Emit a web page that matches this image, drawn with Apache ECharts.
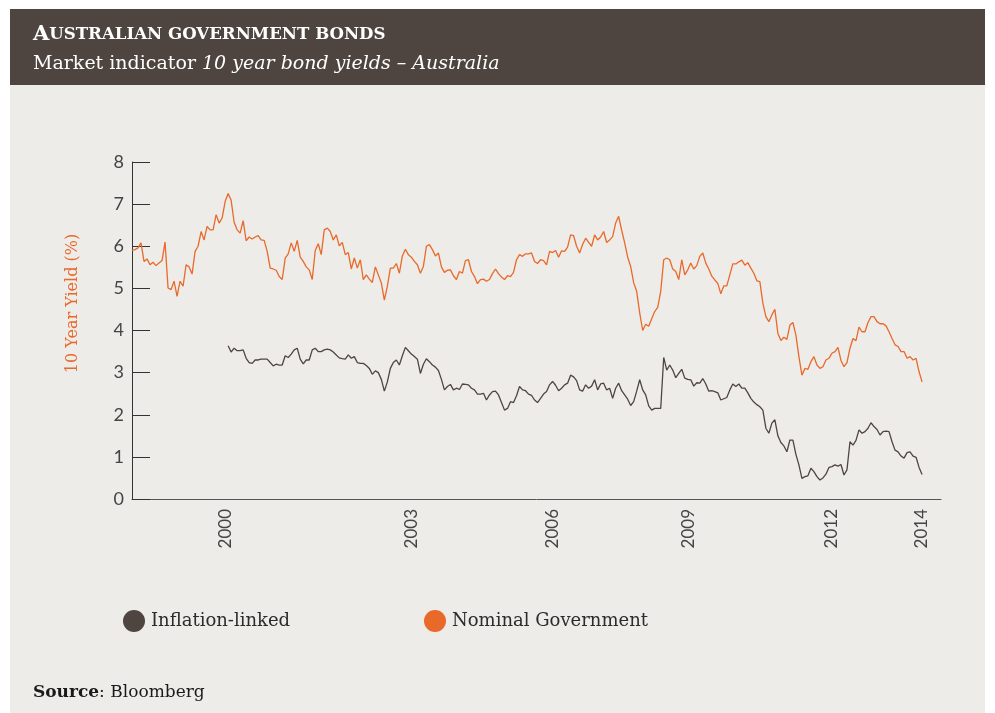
<!DOCTYPE html>
<html><head><meta charset="utf-8">
<script src="https://cdn.jsdelivr.net/npm/echarts@6/dist/echarts.min.js"></script>
<style>html,body{margin:0;padding:0;background:#fff}#c{width:995px;height:713px}</style>
</head><body><div id="c"></div>
<script>
// x = sample index (roughly three-weekly observations), y = 10 year yield (%)
const nominalStart = 0;
const nominalGovernment = [
5.90,5.92,5.96,6.08,5.64,5.70,5.56,5.62,5.54,5.60,5.66,
6.10,5.01,4.97,5.17,4.81,5.17,5.05,5.56,5.51,5.34,
5.88,6.00,6.35,6.15,6.47,6.39,6.39,6.75,6.55,6.67,
7.06,7.25,7.09,6.57,6.39,6.31,6.61,6.13,6.22,6.17,
6.22,6.25,6.15,6.14,5.88,5.48,5.46,5.43,5.28,5.21,
5.72,5.82,6.08,5.88,6.14,5.74,5.64,5.51,5.44,5.21,
5.90,6.06,5.80,6.39,6.43,
6.35,6.15,6.27,6.01,6.09,5.80,5.85,5.46,5.72,5.48,
5.68,5.21,5.32,5.22,5.14,5.51,5.32,5.13,4.72,5.05,
5.48,5.48,5.59,5.36,5.77,5.93,5.80,5.74,5.64,5.56,
5.36,5.52,6.00,6.04,5.92,5.77,5.84,5.51,5.38,5.43,
5.44,5.30,5.21,5.40,5.36,5.66,5.68,5.40,5.28,5.11,
5.21,5.22,5.17,5.21,5.35,5.46,5.35,5.27,5.21,5.30,
5.28,5.38,5.68,
5.80,5.76,5.82,5.82,5.84,5.64,5.59,5.68,5.66,5.56,
5.88,5.85,5.90,5.74,5.89,5.88,5.98,6.27,6.25,6.00,
5.84,6.04,6.19,6.09,6.00,6.27,6.15,6.22,6.35,6.09,
6.15,6.23,6.55,6.71,6.38,6.08,5.74,5.52,5.13,4.93,
4.42,4.00,4.15,4.10,4.28,4.45,4.55,4.93,5.68,5.72,
5.68,5.46,5.40,5.21,5.68,5.32,5.44,5.60,5.46,5.54,
5.76,5.84,5.60,5.46,
5.29,5.20,5.12,4.87,5.06,5.06,5.32,5.58,5.58,5.63,
5.67,5.55,5.61,5.48,5.36,5.18,5.16,4.65,4.33,4.21,
4.37,4.50,3.93,3.76,3.84,3.79,4.13,4.19,3.89,3.38,
2.94,3.10,3.08,3.26,3.38,3.18,3.10,3.14,3.30,3.34,
3.46,3.50,3.60,3.29,3.14,3.24,3.58,3.81,3.76,4.08,
3.97,3.97,4.19,4.33,4.33,4.21,4.16,4.16,4.11,3.97,
3.81,3.66,3.62,3.50,3.50,3.34,3.38,3.30,3.34,3.02,2.78
];
const inflationStart = 32;
const inflationLinked = [
3.64,3.49,3.58,3.52,3.52,3.54,3.34,3.24,3.22,3.30,
3.30,3.32,3.32,3.32,3.24,3.16,3.20,3.18,3.18,3.40,
3.36,3.44,3.54,3.58,3.32,3.21,3.30,3.30,3.54,3.58,
3.50,3.50,3.54,3.56,3.54,3.49,3.42,3.35,3.33,3.32,
3.42,3.34,3.38,3.24,3.22,3.22,3.17,3.10,2.96,3.04,
3.00,2.84,2.56,2.78,3.10,3.24,3.30,3.18,3.40,3.60,
3.52,3.44,3.38,3.32,2.98,3.20,3.33,3.26,3.18,3.13,
3.05,2.84,2.59,2.67,2.72,2.59,2.63,2.60,2.73,2.72,
2.71,2.63,2.59,2.49,2.49,2.51,2.35,2.47,2.55,2.56,
2.47,2.29,2.11,2.15,2.31,2.29,2.45,2.67,2.59,2.57,
2.49,2.46,2.35,2.29,2.39,2.49,2.55,2.71,2.79,2.70,
2.57,2.63,2.71,2.75,2.94,2.90,2.81,2.59,2.56,2.71,
2.63,2.68,2.83,2.59,2.73,2.75,2.59,2.63,2.39,2.63,
2.75,2.57,2.47,2.37,2.22,2.31,2.56,2.83,2.59,2.47,
2.21,2.11,2.15,2.15,2.15,3.36,3.06,3.18,3.06,2.88,
2.98,3.08,2.87,2.84,2.83,2.68,2.76,2.75,2.86,2.73,
2.56,2.57,2.55,2.52,2.35,2.38,2.41,2.59,2.73,2.67,
2.73,2.63,2.63,2.52,2.39,2.30,2.24,2.19,2.11,1.68,
1.56,1.80,1.88,1.50,1.34,1.26,1.12,1.40,1.40,1.06,
0.81,0.49,0.53,0.55,0.73,0.65,0.53,0.45,0.50,0.59,
0.75,0.77,0.81,0.78,0.82,0.57,0.69,1.36,1.28,1.39,
1.64,1.56,1.60,1.68,1.81,1.72,1.65,1.52,1.60,1.61,
1.60,1.36,1.16,1.12,1.02,0.97,1.10,1.12,1.02,0.99,0.75,0.58
];
const xMax = 269.3;
const yearTickAt = [31, 93, 140, 185.3, 232.7, 262.7];
const yearTickLabels = ['2000', '2003', '2006', '2009', '2012', '2014'];
const yTicks = [0, 1, 2, 3, 4, 5, 6, 7, 8];

const toPairs = (start, arr) => arr.map((v, i) => [start + i, v]);
const serifFont = 'DejaVu Serif';
const sansFont = 'Lato';

const chart = echarts.init(document.getElementById('c'), null, {renderer: 'canvas'});
chart.setOption({
  backgroundColor: '#ffffff',
  animation: false,
  graphic: [
    {type: 'rect', left: 10, top: 85, shape: {width: 975, height: 628}, style: {fill: '#eeece8'}, z: -10},
    {type: 'rect', left: 10, top: 9, shape: {width: 975, height: 76}, style: {fill: '#4f4540'}, z: -10},
    {type: 'text', left: 33, top: 684, style: {
      text: '{b|Source}{r|: Bloomberg}',
      rich: {b: {fontFamily: serifFont, fontWeight: 'bold', fontSize: 17, fill: '#1a1a1a'},
             r: {fontFamily: serifFont, fontSize: 17, fill: '#1a1a1a'}}}}
  ],
  title: {
    text: '{a|A}{b|USTRALIAN GOVERNMENT BONDS}',
    subtext: '{r|Market indicator }{i|10 year bond yields – Australia}',
    left: 33, top: 24, itemGap: 10, padding: 0,
    textStyle: {
      rich: {
        a: {fontFamily: serifFont, fontWeight: 'bold', fontSize: 21, color: '#ffffff'},
        b: {fontFamily: serifFont, fontWeight: 'bold', fontSize: 16.6, color: '#ffffff'}
      }
    },
    subtextStyle: {
      rich: {
        r: {fontFamily: serifFont, fontSize: 19, color: '#ffffff'},
        i: {fontFamily: serifFont, fontStyle: 'italic', fontSize: 19, color: '#ffffff'}
      }
    }
  },
  legend: [
    {data: ['Inflation-linked'], left: 118, top: 605, icon: 'circle', itemWidth: 22, itemHeight: 22,
     textStyle: {fontFamily: serifFont, fontSize: 18, color: '#2b2b2b', padding: [0, 0, 0, 1]}},
    {data: ['Nominal Government'], left: 419, top: 605, icon: 'circle', itemWidth: 22, itemHeight: 22,
     textStyle: {fontFamily: serifFont, fontSize: 18, color: '#2b2b2b', padding: [0, 0, 0, 1]}}
  ],
  grid: {left: 132, right: 54, top: 162, bottom: 214, containLabel: false},
  xAxis: {
    type: 'value', min: 0, max: xMax,
    axisLine: {show: true, lineStyle: {color: '#555', width: 1}},
    axisTick: {show: false},
    splitLine: {show: false},
    axisLabel: {
      customValues: yearTickAt,
      rotate: 90, margin: 10, fontFamily: sansFont, fontSize: 17, color: '#444',
      formatter: (v) => {
        let best = 0;
        yearTickAt.forEach((t, k) => { if (Math.abs(t - v) < Math.abs(yearTickAt[best] - v)) best = k; });
        return yearTickLabels[best];
      }
    }
  },
  yAxis: {
    type: 'value', min: yTicks[0], max: yTicks[yTicks.length - 1], interval: 1,
    name: '10 Year Yield (%)', nameLocation: 'middle', nameGap: 51, nameRotate: 90,
    nameTextStyle: {fontFamily: serifFont, fontSize: 16, color: '#e8692a', padding: [0, 0, 0, 54]},
    axisLine: {show: true, lineStyle: {color: '#333', width: 1}},
    axisTick: {show: true, inside: true, length: 18, lineStyle: {color: '#333', width: 1}},
    splitLine: {show: false},
    axisLabel: {fontFamily: sansFont, fontSize: 18, color: '#444', margin: 8}
  },
  series: [
    {name: 'Inflation-linked', type: 'line', data: toPairs(inflationStart, inflationLinked),
     showSymbol: false, symbol: 'none', lineStyle: {color: '#4f4540', width: 1.3}, itemStyle: {color: '#4f4540'}},
    {name: 'Nominal Government', type: 'line', data: toPairs(nominalStart, nominalGovernment),
     showSymbol: false, symbol: 'none', lineStyle: {color: '#e8692a', width: 1.3}, itemStyle: {color: '#e8692a'}}
  ]
});
</script></body></html>
